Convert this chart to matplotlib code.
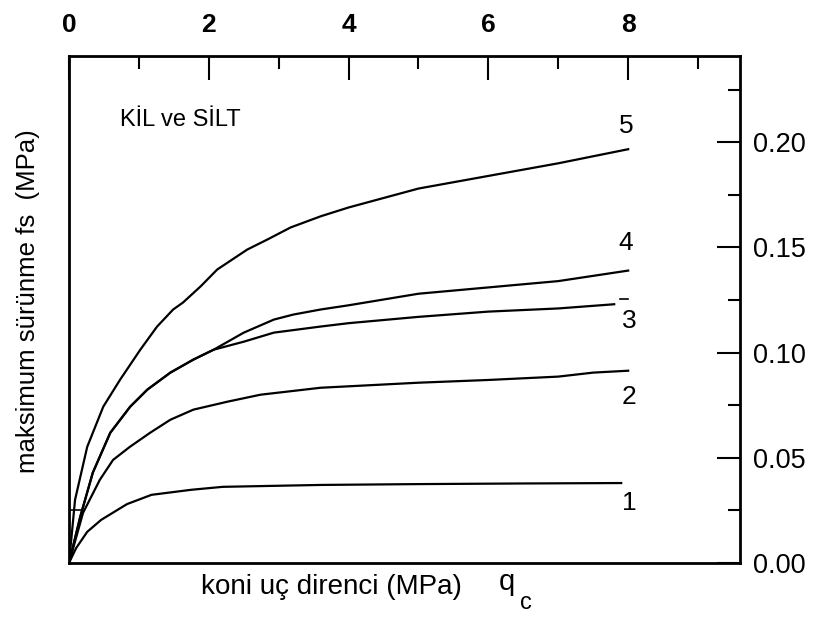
import matplotlib
matplotlib.use("Agg")
import matplotlib.pyplot as plt

plt.rcParams['font.family'] = ['Liberation Sans', 'DejaVu Sans']

# okunan egriler (qc MPa, fs MPa)
curve1_x = [0, 0.1, 0.26, 0.46, 0.83, 1.18, 1.75, 2.2, 3.6, 5.0, 6.5, 7.9]
curve1_y = [0, 0.007, 0.0148, 0.0205, 0.028, 0.0324, 0.0348, 0.0362, 0.0371, 0.0375, 0.0378, 0.038]

curve2_x = [0, 0.2, 0.44, 0.63, 0.87, 1.16, 1.45, 1.78, 2.27, 2.74, 3.6, 5.0, 6.0, 7.0, 7.5, 8.0]
curve2_y = [0, 0.0238, 0.0395, 0.049, 0.0552, 0.0619, 0.0681, 0.0729, 0.0767, 0.08, 0.0833,
            0.0857, 0.087, 0.0886, 0.0905, 0.0914]

# 3 ve 4 baslangicta ortak
shared_x = [0, 0.16, 0.34, 0.59, 0.875, 1.12, 1.45, 1.78, 2.07]
shared_y = [0, 0.0219, 0.0429, 0.0619, 0.0743, 0.0824, 0.0905, 0.0967, 0.1014]

curve3_x = shared_x + [2.5, 2.93, 3.6, 4.0, 5.0, 6.0, 7.0, 7.8]
curve3_y = shared_y + [0.1052, 0.1095, 0.1124, 0.114, 0.117, 0.1195, 0.121, 0.123]

curve4_x = shared_x + [2.5, 2.93, 3.21, 3.6, 4.0, 5.0, 6.0, 7.0, 8.0]
curve4_y = shared_y + [0.1095, 0.1157, 0.1181, 0.1205, 0.1225, 0.128, 0.131, 0.134, 0.139]

curve5_x = [0, 0.086, 0.26, 0.49, 0.73, 1.02, 1.26, 1.49, 1.63, 1.88, 2.12, 2.55, 2.84,
            3.17, 3.6, 4.0, 5.0, 6.0, 7.0, 8.0]
curve5_y = [0, 0.030, 0.0552, 0.0743, 0.0871, 0.1014, 0.1124, 0.1205, 0.1238, 0.1314,
            0.1395, 0.149, 0.1538, 0.1595, 0.1648, 0.169, 0.178, 0.184, 0.190, 0.1967]

curve_names = ["1", "2", "3", "4", "5"]
label_x = [8.01, 8.01, 8.01, 7.97, 7.97]
label_y = [0.0286, 0.079, 0.1148, 0.152, 0.2076]

box_x = [0, 0.19]
box_y = [0.025, 0.025]
dash_x = [7.88, 8.0]
dash_y = [0.1255, 0.1255]

x_major = [0, 2, 4, 6, 8]
x_minor = [1, 3, 5, 7, 9]
y_major = [0.0, 0.05, 0.10, 0.15, 0.20]
y_minor = [0.025, 0.075, 0.125, 0.175, 0.225]

fig = plt.figure(figsize=(8.14, 6.19), dpi=100)
ax = fig.add_axes([0.0848, 0.0905, 0.8243, 0.819])

lw = 1.6
for xs, ys in [(curve1_x, curve1_y), (curve2_x, curve2_y), (curve3_x, curve3_y),
               (curve4_x, curve4_y), (curve5_x, curve5_y)]:
    ax.plot(xs, ys, color='black', lw=lw, solid_joinstyle='round')

ax.plot(box_x, box_y, color='black', lw=1.2)
ax.plot(dash_x, dash_y, color='black', lw=1.2)

for name, lx, ly in zip(curve_names, label_x, label_y):
    ax.text(lx, ly, name, fontsize=19, ha='center', va='center')

ax.text(0.076, 0.874, "KİL ve SİLT", fontsize=17, ha='left', va='center',
        transform=ax.transAxes)

ax.set_xlim(0, 9.6)
ax.set_ylim(0, 0.241)

ax.xaxis.tick_top()
ax.set_xticks(x_major)
ax.set_xticks(x_minor, minor=True)
ax.set_xticklabels([str(v) for v in x_major], fontsize=19, fontweight='bold')
ax.tick_params(axis='x', which='major', direction='in', length=17, width=1.5, pad=14)
ax.tick_params(axis='x', which='minor', direction='in', length=9.5, width=1.5)

ax.yaxis.tick_right()
ax.set_yticks(y_major)
ax.set_yticks(y_minor, minor=True)
ax.set_yticklabels([f"{v:.2f}" for v in y_major], fontsize=19.5)
ax.tick_params(axis='y', which='major', direction='in', length=16.5, width=1.5, pad=9)
ax.tick_params(axis='y', which='minor', direction='in', length=9, width=1.5)

for sp in ax.spines.values():
    sp.set_linewidth(2)

fig.text(28 / 814, 1 - 301 / 619, "maksimum sürünme fs  (MPa)", rotation=90,
         fontsize=18.5, ha='center', va='center')
fig.text(331 / 814, 1 - 587 / 619, "koni uç direnci (MPa)", fontsize=20,
         ha='center', va='center')
fig.text(507 / 814, 1 - 582 / 619, "q", fontsize=21, ha='center', va='center')
fig.text(526 / 814, 1 - 603 / 619, "c", fontsize=17, ha='center', va='center')

fig.savefig("out.png", dpi=100)
